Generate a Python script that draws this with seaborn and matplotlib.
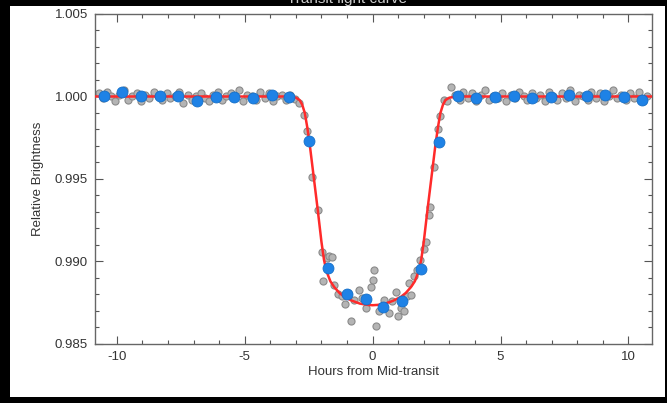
import numpy as np
import pandas as pd
import matplotlib
matplotlib.use("Agg")
import matplotlib.pyplot as plt
from matplotlib.patches import Rectangle
from matplotlib.ticker import MultipleLocator
import seaborn as sns

# ---- data ----
# unbinned photometry (gray)
gray_hours = [
    -10.70, -10.55, -10.40, -10.22, -10.05, -9.90, -9.72, -9.55, -9.40, -9.22,
    -9.05, -8.90, -8.72, -8.55, -8.40, -8.22, -8.05, -7.90, -7.72, -7.55,
    -7.40, -7.22, -7.05, -6.90, -6.72, -6.55, -6.40, -6.22, -6.05, -5.90,
    -5.72, -5.55, -5.40, -5.22, -5.05, -4.90, -4.72, -4.55, -4.40, -4.22,
    -4.05, -3.90, -3.72, -3.55, -3.40, -3.22,
    -3.05, -2.88, -2.70, -2.55, -2.35, -2.15, -1.98, -1.92, -1.80, -1.72,
    -1.57, -1.50, -1.37, -1.20, -1.06, -0.95, -0.86, -0.74, -0.55, -0.40,
    -0.25, -0.08, 0.00, 0.05, 0.12, 0.25, 0.43, 0.63, 0.75, 0.90,
    0.98, 1.10, 1.21, 1.35, 1.41, 1.49, 1.61, 1.75, 1.85, 2.00,
    2.07, 2.19, 2.23, 2.39, 2.54, 2.65, 2.78, 2.92, 3.05,
    3.22, 3.40, 3.55, 3.72, 3.90, 4.05, 4.22, 4.40, 4.55, 4.72,
    4.90, 5.05, 5.22, 5.40, 5.55, 5.72, 5.90, 6.05, 6.22, 6.40,
    6.55, 6.72, 6.90, 7.05, 7.22, 7.40, 7.55, 7.72, 7.90, 8.05,
    8.22, 8.40, 8.55, 8.72, 8.90, 9.05, 9.22, 9.40, 9.55, 9.72,
    9.90, 10.05, 10.22, 10.40, 10.55, 10.72,
]
gray_flux = [
    1.00020, 0.99990, 1.00030, 1.00000, 0.99970, 1.00010, 1.00040, 0.99980, 1.00000, 1.00020,
    0.99970, 1.00010, 0.99990, 1.00030, 1.00000, 0.99980, 1.00020, 0.99990, 1.00000, 1.00030,
    0.99960, 1.00010, 0.99980, 1.00000, 1.00020, 0.99990, 0.99970, 1.00010, 1.00030, 0.99980,
    1.00000, 1.00020, 0.99990, 1.00040, 0.99970, 1.00010, 1.00000, 0.99980, 1.00030, 0.99990,
    1.00020, 0.99970, 1.00000, 1.00010, 0.99980, 1.00010,
    0.99985, 0.99962, 0.99888, 0.99790, 0.99513, 0.99313, 0.99060, 0.98880, 0.99020, 0.99031,
    0.99030, 0.98860, 0.98800, 0.98790, 0.98740, 0.98810, 0.98640, 0.98765, 0.98825, 0.98780,
    0.98720, 0.98845, 0.98890, 0.98950, 0.98610, 0.98700, 0.98765, 0.98690, 0.98760, 0.98815,
    0.98670, 0.98720, 0.98700, 0.98790, 0.98870, 0.98795, 0.98910, 0.98950, 0.99010, 0.99075,
    0.99120, 0.99280, 0.99330, 0.99575, 0.99805, 0.99880, 0.99980, 0.99970, 1.00055,
    1.00010, 0.99980, 1.00030, 0.99990, 1.00020, 0.99970, 1.00010, 1.00040, 0.99980, 1.00000,
    0.99990, 1.00020, 0.99970, 1.00010, 0.99990, 1.00030, 1.00000, 0.99980, 1.00020, 0.99990,
    1.00010, 0.99970, 1.00030, 1.00000, 0.99980, 1.00020, 0.99990, 1.00040, 0.99970, 1.00010,
    1.00000, 0.99980, 1.00030, 0.99990, 1.00020, 0.99970, 1.00000, 1.00040, 0.99990, 1.00010,
    0.99980, 1.00020, 0.99990, 1.00030, 0.99970, 1.00000,
]

# binned photometry (blue)
bin_hours = [
    -10.49, -9.78, -9.04, -8.30, -7.59, -6.85, -6.11, -5.40, -4.66, -3.95, -3.25,
    -2.50, -1.76, -1.02, -0.27, 0.39, 1.13, 1.88, 2.58,
    3.33, 4.03, 4.77, 5.52, 6.22, 6.97, 7.67, 8.38, 9.08, 9.82, 10.53,
]
bin_flux = [
    1.00006, 1.00025, 1.00006, 1.00006, 1.00006, 0.99970, 0.99994, 0.99994, 0.99988, 1.00012, 0.99994,
    0.99731, 0.98963, 0.98800, 0.98775, 0.98725, 0.98760, 0.98956, 0.99725,
    1.00006, 0.99988, 0.99994, 1.00000, 0.99988, 0.99994, 1.00012, 1.00000, 1.00012, 0.99994, 0.99981,
]

# transit model (red)
model_hours = [
    -10.85, -3.40, -3.20, -3.00, -2.85, -2.75, -2.65, -2.55, -2.45, -2.30,
    -2.15, -2.00, -1.90, -1.80, -1.65, -1.50, -1.30, -1.10, -0.80, -0.50,
    -0.20, 0.00, 0.20, 0.50, 0.80, 1.10, 1.30, 1.50, 1.65, 1.80,
    1.90, 2.00, 2.15, 2.30, 2.45, 2.55, 2.65, 2.75, 2.85, 3.00,
    3.20, 3.40, 10.92,
]
model_flux = [
    1.00000, 1.00000, 0.99998, 0.99993, 0.99978, 0.99950, 0.99900, 0.99810, 0.99700, 0.99510,
    0.99320, 0.99120, 0.99010, 0.98940, 0.98880, 0.98845, 0.98810, 0.98785, 0.98762, 0.98745,
    0.98737, 0.98735, 0.98737, 0.98745, 0.98762, 0.98785, 0.98810, 0.98845, 0.98880, 0.98940,
    0.99010, 0.99120, 0.99320, 0.99510, 0.99700, 0.99810, 0.99900, 0.99950, 0.99978, 0.99993,
    0.99998, 1.00000, 1.00000,
]

x_ticks = [-10, -5, 0, 5, 10]
y_ticks = [0.985, 0.990, 0.995, 1.000, 1.005]
y_ticklabels = ["0.985", "0.990", "0.995", "1.000", "1.005"]

gray_df = pd.DataFrame({"hours": gray_hours, "flux": gray_flux})
bin_df = pd.DataFrame({"hours": bin_hours, "flux": bin_flux})
model_df = pd.DataFrame({"hours": model_hours, "flux": model_flux})

# ---- figure ----
sns.set_style("ticks")
plt.rcParams["font.family"] = ["Liberation Sans", "DejaVu Sans"]

W, H = 667, 403
fig = plt.figure(figsize=(W / 100, H / 100), dpi=100)
fig.patch.set_facecolor("black")
fig.patches.append(Rectangle((10 / W, 1 - 397 / H), (665 - 10) / W, (397 - 6) / H,
                             transform=fig.transFigure, facecolor="white",
                             edgecolor="none", zorder=-10))

left, right, top, bottom = 95, 652, 14, 344
ax = fig.add_axes([left / W, 1 - bottom / H, (right - left) / W, (bottom - top) / H])

sns.scatterplot(data=gray_df, x="hours", y="flux", ax=ax, s=26,
                color="#b4b4b4", edgecolor="#8a8a8a", linewidth=0.8, zorder=2,
                legend=False)
sns.lineplot(data=model_df, x="hours", y="flux", ax=ax, color="#ff2a2a",
             linewidth=1.8, sort=False, estimator=None, zorder=3)
sns.scatterplot(data=bin_df, x="hours", y="flux", ax=ax, s=62,
                color="#1e82e6", edgecolor="#1670c8", linewidth=0.6, zorder=4,
                legend=False)

ax.set_xlim(-10.85, 10.92)
ax.set_ylim(0.985, 1.005)
ax.set_xticks(x_ticks)
ax.set_xticklabels([str(t) for t in x_ticks])
ax.set_yticks(y_ticks)
ax.set_yticklabels(y_ticklabels)
ax.xaxis.set_minor_locator(MultipleLocator(1))
ax.yaxis.set_minor_locator(MultipleLocator(0.001))
ax.tick_params(which="both", direction="in", top=True, right=True,
               colors="#555555", labelcolor="#333333", labelsize=9.5, width=0.8)
ax.tick_params(which="major", length=6, pad=5)
ax.tick_params(which="minor", length=3)
for sp in ax.spines.values():
    sp.set_color("#666666")
    sp.set_linewidth(1.0)

ax.set_xlabel("Hours from Mid-transit", fontsize=9.5, color="#333333", labelpad=2)
ax.set_ylabel("Relative Brightness", fontsize=9.5, color="#333333", labelpad=8)

fig.text(0.52, 1.0 + 0.002, "Transit light curve", color="#cccccc", fontsize=11,
         ha="center", va="center")

fig.savefig("out.png", dpi=100, facecolor=fig.get_facecolor())
